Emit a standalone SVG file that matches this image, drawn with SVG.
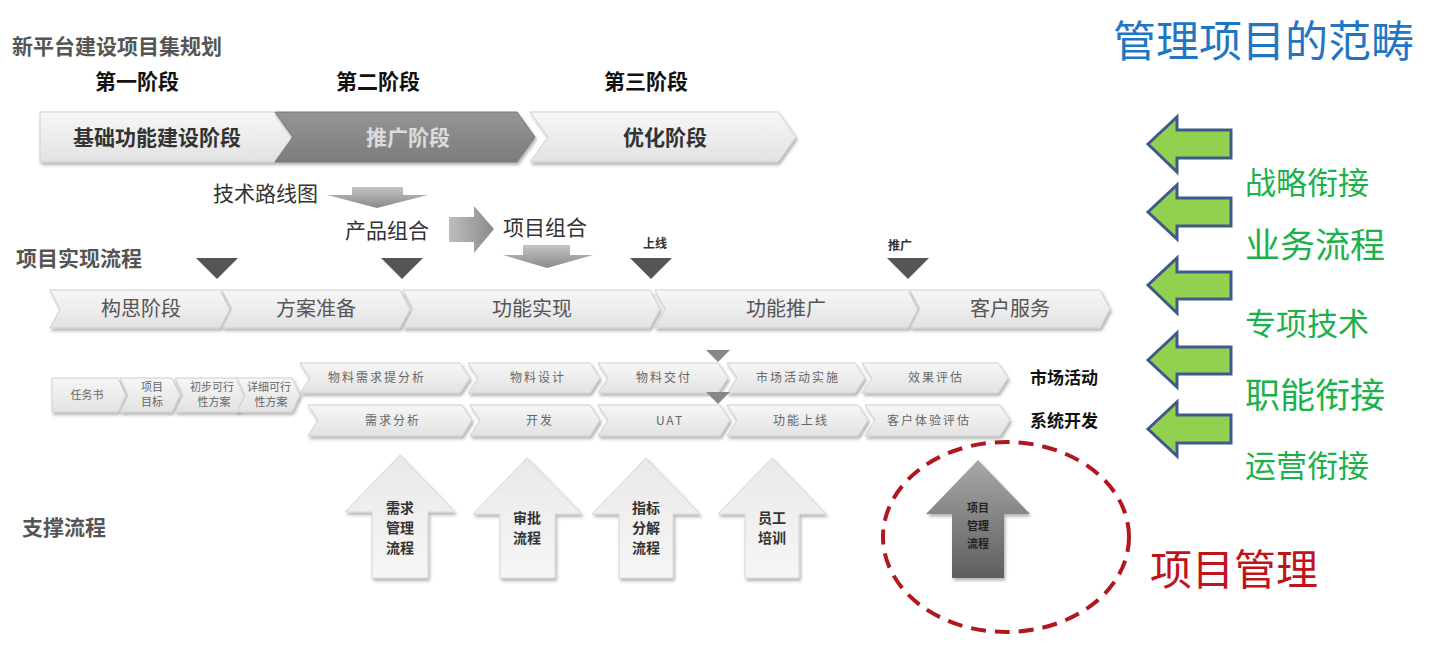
<svg xmlns="http://www.w3.org/2000/svg" width="1440" height="647" viewBox="0 0 1440 647">
<defs>
<linearGradient id="gLight" x1="0" y1="0" x2="0" y2="1"><stop offset="0" stop-color="#f7f7f7"/><stop offset="1" stop-color="#e2e2e2"/></linearGradient>
<linearGradient id="gDark" x1="0" y1="0" x2="0" y2="1"><stop offset="0" stop-color="#959595"/><stop offset="1" stop-color="#7c7c7c"/></linearGradient>
<linearGradient id="gArrow" x1="0" y1="0" x2="0" y2="1"><stop offset="0" stop-color="#c4c4c4"/><stop offset="1" stop-color="#8a8a8a"/></linearGradient>
<linearGradient id="gArrowH" x1="0" y1="0" x2="1" y2="0"><stop offset="0" stop-color="#bdbdbd"/><stop offset="1" stop-color="#8a8a8a"/></linearGradient>
<linearGradient id="gUp" x1="0" y1="0" x2="0" y2="1"><stop offset="0" stop-color="#e9e9e9"/><stop offset="1" stop-color="#f6f6f6"/></linearGradient>
<linearGradient id="gUpDark" x1="0" y1="0" x2="0" y2="1"><stop offset="0" stop-color="#a8a8a8"/><stop offset="1" stop-color="#5e5e5e"/></linearGradient>
<filter id="sh" x="-10%" y="-20%" width="130%" height="160%"><feDropShadow dx="1.5" dy="2.5" stdDeviation="1.5" flood-color="#000" flood-opacity="0.3"/></filter>
</defs>
<style>
.cj{font-family:"Noto Sans CJK SC","Noto Sans",sans-serif}
.hd{font-family:"Noto Sans CJK SC",sans-serif;font-weight:bold;fill:#555;font-size:21px}
.ph{font-family:"Noto Sans CJK SC",sans-serif;font-weight:bold;fill:#111;font-size:21px;text-anchor:middle}
.lt{fill:url(#gLight);stroke:#cfcfcf;stroke-width:1;filter:url(#sh)}
.dk{fill:url(#gDark);stroke:#777;stroke-width:1;filter:url(#sh)}
.bar{stroke:#8a8a8a;stroke-width:4;filter:url(#sh)}
.t1{font-family:"Noto Sans CJK SC",sans-serif;font-size:21px;fill:#333;text-anchor:middle;font-weight:bold}
.t2{font-family:"Noto Sans CJK SC",sans-serif;font-size:20px;fill:#555;text-anchor:middle}
.t3{font-family:"Noto Sans CJK SC",sans-serif;font-size:12px;fill:#666;text-anchor:middle;letter-spacing:2px}
.t4{font-family:"Noto Sans CJK SC",sans-serif;font-size:11px;fill:#666;text-anchor:middle}
.lbl{font-family:"Noto Sans CJK SC",sans-serif;font-size:21px;fill:#333}
.sm{font-family:"Noto Sans CJK SC",sans-serif;font-size:12px;fill:#333;font-weight:bold;text-anchor:middle}
.ut{font-family:"Noto Sans CJK SC",sans-serif;font-size:14px;fill:#333;font-weight:bold;text-anchor:middle}
.tri{fill:#555}
.up{fill:url(#gUp);stroke:#d4d4d4;stroke-width:1;filter:url(#sh)}
.ga{fill:#92d050;stroke:#3f5a8a;stroke-width:3;stroke-linejoin:miter}
.gt{font-family:"Noto Sans CJK SC",sans-serif;fill:#1db14b}
</style>

<g id="headers">
<text class="hd" x="12" y="54" font-size="22">新平台建设项目集规划</text>
<text class="ph" x="137" y="89">第一阶段</text>
<text class="ph" x="378" y="89">第二阶段</text>
<text class="ph" x="646" y="89">第三阶段</text>
<text class="hd" x="16" y="266">项目实现流程</text>
<text class="hd" x="22" y="535">支撑流程</text>
</g>

<g id="bars">
<line class="bar" x1="25" y1="103" x2="820" y2="103"/>
<line class="bar" x1="25" y1="173" x2="820" y2="173"/>
<line class="bar" x1="48" y1="281" x2="1108" y2="281"/>
<line class="bar" x1="48" y1="338" x2="1108" y2="338"/>
</g>

<g id="phase-1"><path class="lt" d="M40,112 L274,112 L292,137 L274,162 L40,162 Z"/><text class="t1" x="157" y="145">基础功能建设阶段</text></g>
<g id="phase-2"><path class="dk" d="M275,112 L517,112 L535,137 L517,162 L275,162 L293,137 Z"/><text class="t1" x="408" y="145" fill="#dcdcdc" style="fill:#dcdcdc">推广阶段</text></g>
<g id="phase-3"><path class="lt" d="M530,112 L778,112 L796,137 L778,162 L530,162 L548,137 Z"/><text class="t1" x="665" y="145">优化阶段</text></g>

<g id="tech-roadmap"><text class="lbl" x="213" y="201">技术路线图</text></g>
<g id="product-combo"><text class="lbl" x="345" y="238">产品组合</text></g>
<g id="project-combo"><text class="lbl" x="503" y="235">项目组合</text></g>
<g id="milestone-labels">
<text class="sm" x="655" y="248">上线</text>
<text class="sm" x="900" y="250">推广</text>
</g>

<g id="stage-1"><path class="lt" d="M50,290 L220,290 L230,309 L220,328 L50,328 L60,309 Z"/><text class="t2" x="141" y="316">构思阶段</text></g>
<g id="stage-2"><path class="lt" d="M222,290 L400,290 L410,309 L400,328 L222,328 L232,309 Z"/><text class="t2" x="316" y="316">方案准备</text></g>
<g id="stage-3"><path class="lt" d="M403,290 L650,290 L660,309 L650,328 L403,328 L413,309 Z"/><text class="t2" x="532" y="316">功能实现</text></g>
<g id="stage-4"><path class="lt" d="M655,290 L908,290 L918,309 L908,328 L655,328 L665,309 Z"/><text class="t2" x="786" y="316">功能推广</text></g>
<g id="stage-5"><path class="lt" d="M910,290 L1100,290 L1110,309 L1100,328 L910,328 L920,309 Z"/><text class="t2" x="1010" y="316">客户服务</text></g>

<g id="prep-1"><path class="lt" d="M52,378 L118,378 L126,395 L118,412 L52,412 Z"/><text class="t4" x="87" y="399">任务书</text></g>
<g id="prep-2"><path class="lt" d="M120,378 L172,378 L180,395 L172,412 L120,412 L128,395 Z"/><text class="t4" x="152" y="391">项目</text><text class="t4" x="152" y="406">目标</text></g>
<g id="prep-3"><path class="lt" d="M175,378 L238,378 L246,395 L238,412 L175,412 L183,395 Z"/><text class="t4" x="212" y="391">初步可行</text><text class="t4" x="214" y="406">性方案</text></g>
<g id="prep-4"><path class="lt" d="M237,378 L292,378 L300,395 L292,412 L237,412 L245,395 Z"/><text class="t4" x="269" y="391">详细可行</text><text class="t4" x="271" y="406">性方案</text></g>

<g id="mkt-1"><path class="lt" d="M300,363 L460,363 L470,378 L460,393 L300,393 L310,378 Z"/><text class="t3" x="377" y="382">物料需求提分析</text></g>
<g id="mkt-2"><path class="lt" d="M468,363 L590,363 L600,378 L590,393 L468,393 L478,378 Z"/><text class="t3" x="538" y="382">物料设计</text></g>
<g id="mkt-3"><path class="lt" d="M598,363 L718,363 L728,378 L718,393 L598,393 L608,378 Z"/><text class="t3" x="664" y="382">物料交付</text></g>
<g id="mkt-4"><path class="lt" d="M727,363 L855,363 L865,378 L855,393 L727,393 L737,378 Z"/><text class="t3" x="798" y="382">市场活动实施</text></g>
<g id="mkt-5"><path class="lt" d="M862,363 L998,363 L1008,378 L998,393 L862,393 L872,378 Z"/><text class="t3" x="936" y="382">效果评估</text></g>
<g id="mkt-label"><text class="cj" x="1030" y="384" font-size="17" font-weight="bold" fill="#111">市场活动</text></g>

<g id="dev-1"><path class="lt" d="M308,405 L462,405 L472,420 L462,436 L308,436 L318,420 Z"/><text class="t3" x="393" y="425">需求分析</text></g>
<g id="dev-2"><path class="lt" d="M470,405 L590,405 L600,420 L590,436 L470,436 L480,420 Z"/><text class="t3" x="540" y="425">开发</text></g>
<g id="dev-3"><path class="lt" d="M598,405 L720,405 L730,420 L720,436 L598,436 L608,420 Z"/><text class="t3" x="670" y="425">UAT</text></g>
<g id="dev-4"><path class="lt" d="M727,405 L858,405 L868,420 L858,436 L727,436 L737,420 Z"/><text class="t3" x="801" y="425">功能上线</text></g>
<g id="dev-5"><path class="lt" d="M865,405 L1000,405 L1010,420 L1000,436 L865,436 L875,420 Z"/><text class="t3" x="929" y="425">客户体验评估</text></g>
<g id="dev-label"><text class="cj" x="1030" y="427" font-size="17" font-weight="bold" fill="#111">系统开发</text></g>

<g id="support-1"><path class="up" d="M400,455 L455,512 L428,512 L428,578 L372,578 L372,512 L345,512 Z"/><text class="ut" x="400" y="513">需求</text><text class="ut" x="400" y="533">管理</text><text class="ut" x="400" y="553">流程</text></g>
<g id="support-2"><path class="up" d="M527,458 L582,514 L555,514 L555,578 L500,578 L500,514 L473,514 Z"/><text class="ut" x="527" y="523">审批</text><text class="ut" x="527" y="543">流程</text></g>
<g id="support-3"><path class="up" d="M646,458 L700,514 L673,514 L673,578 L619,578 L619,514 L592,514 Z"/><text class="ut" x="646" y="513">指标</text><text class="ut" x="646" y="533">分解</text><text class="ut" x="646" y="553">流程</text></g>
<g id="support-4"><path class="up" d="M772,458 L826,514 L799,514 L799,578 L745,578 L745,514 L718,514 Z"/><text class="ut" x="772" y="523">员工</text><text class="ut" x="772" y="543">培训</text></g>
<g id="support-5"><path d="M978,460 L1030,514 L1004,514 L1004,578 L952,578 L952,514 L926,514 Z" fill="url(#gUpDark)" filter="url(#sh)"/><text class="ut" x="978" y="512" font-size="11" style="font-size:11px;fill:#222">项目</text><text class="ut" x="978" y="530" style="font-size:11px;fill:#222">管理</text><text class="ut" x="978" y="548" style="font-size:11px;fill:#222">流程</text></g>

<g id="pm-highlight">
<ellipse cx="1006" cy="537" rx="123" ry="95" fill="none" stroke="#b0171f" stroke-width="4" stroke-dasharray="15 9"/>
<text class="cj" x="1150" y="585" font-size="42" fill="#c0141b">项目管理</text>
</g>

<g id="scope-title"><text class="cj" x="1113" y="57" font-size="43" fill="#1f77c4">管理项目的范畴</text></g>
<g id="scope-1"><text class="gt" x="1245" y="194" font-size="31">战略衔接</text></g>
<g id="scope-2"><text class="gt" x="1245" y="258" font-size="35">业务流程</text></g>
<g id="scope-3"><text class="gt" x="1245" y="335" font-size="31">专项技术</text></g>
<g id="scope-4"><text class="gt" x="1245" y="408" font-size="35">职能衔接</text></g>
<g id="scope-5"><text class="gt" x="1245" y="477" font-size="31">运营衔接</text></g>

<g id="connectors">
<path d="M352,187 L403,187 L403,195 L428,195 L377,208 L327,195 L352,195 Z" fill="url(#gArrow)"/>
<path d="M449,217 L474,217 L474,206 L494,229 L474,253 L474,242 L449,242 Z" fill="url(#gArrowH)"/>
<path d="M523,245 L570,245 L570,255 L593,255 L547,268 L503,255 L523,255 Z" fill="url(#gArrow)"/>
<path class="tri" d="M196,258 L238,258 L217,279 Z"/>
<path class="tri" d="M381,258 L423,258 L402,279 Z"/>
<path class="tri" d="M630,258 L672,258 L651,279 Z"/>
<path class="tri" d="M887,258 L929,258 L908,279 Z"/>
<path d="M706,350 L730,350 L718,362 Z" fill="#888"/>
<path d="M706,392 L730,392 L718,404 Z" fill="#888"/>
<path class="ga" d="M1148,144 L1177,117 L1177,130 L1231,130 L1231,158 L1177,158 L1177,172 Z"/>
<path class="ga" d="M1148,212 L1177,185 L1177,198 L1231,198 L1231,226 L1177,226 L1177,239 Z"/>
<path class="ga" d="M1148,285 L1177,258 L1177,272 L1231,272 L1231,299 L1177,299 L1177,313 Z"/>
<path class="ga" d="M1148,360 L1177,333 L1177,347 L1231,347 L1231,374 L1177,374 L1177,387 Z"/>
<path class="ga" d="M1148,429 L1177,402 L1177,415 L1231,415 L1231,443 L1177,443 L1177,456 Z"/>
</g>
</svg>
